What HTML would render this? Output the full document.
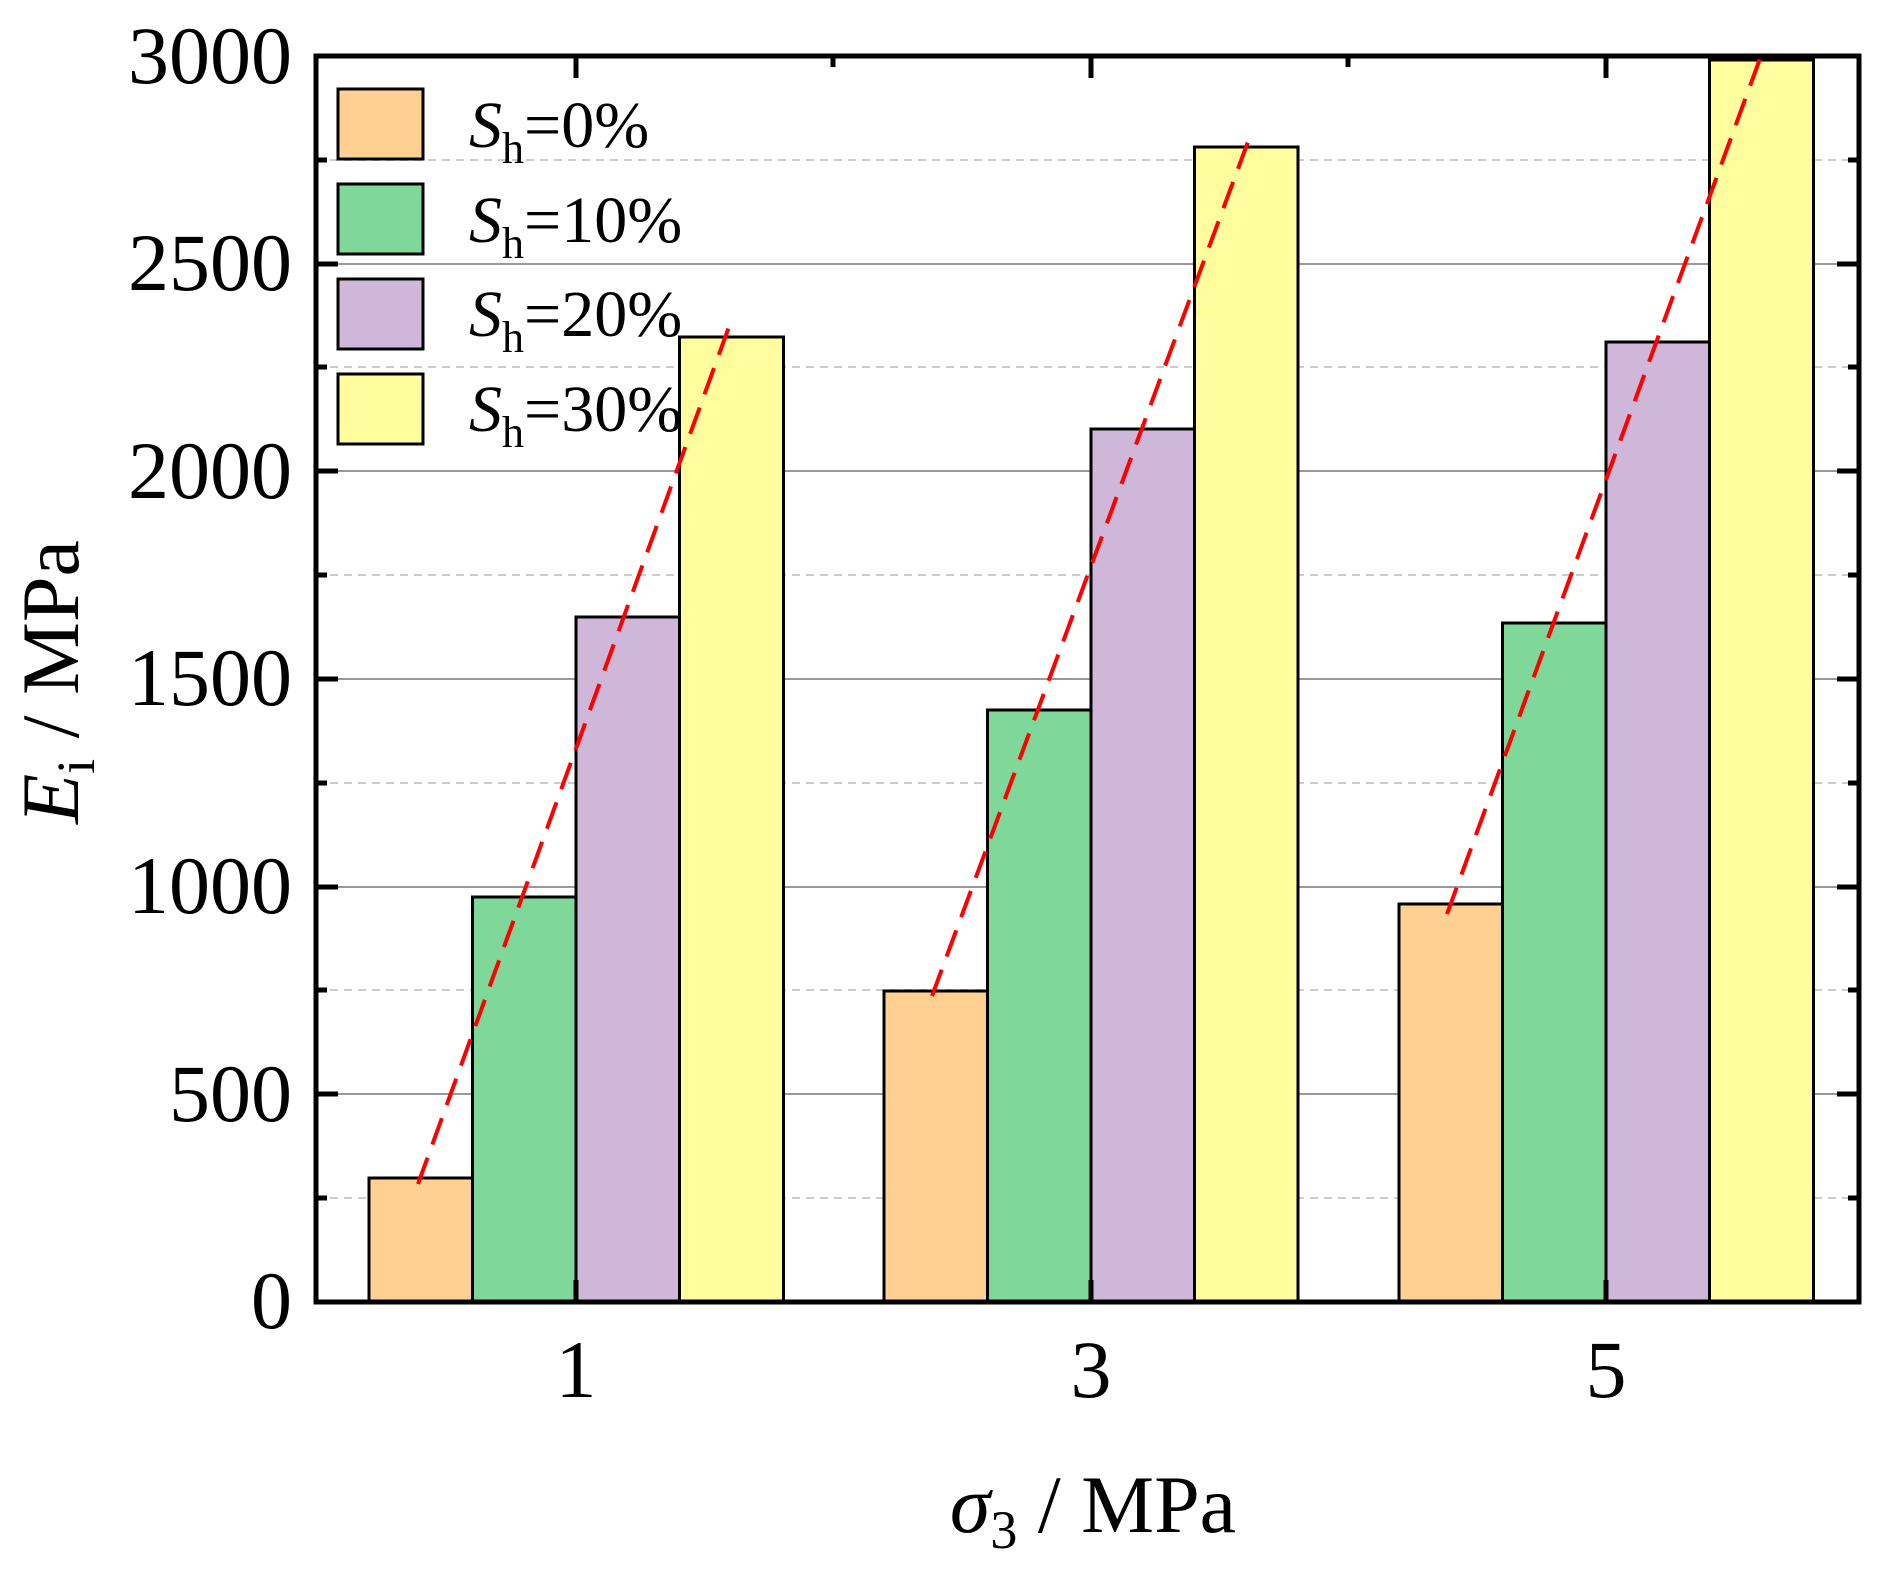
<!DOCTYPE html>
<html><head><meta charset="utf-8"><style>body{margin:0;background:#fff}svg{display:block}</style></head><body>
<svg width="1884" height="1571" viewBox="0 0 1884 1571" xmlns="http://www.w3.org/2000/svg" font-family="Liberation Serif, serif">
<rect width="1884" height="1571" fill="#fff"/>
<g stroke="#ccc" stroke-width="2" stroke-dasharray="8,6">
<line x1="316" x2="1859" y1="1198" y2="1198"/><line x1="316" x2="1859" y1="990" y2="990"/><line x1="316" x2="1859" y1="783" y2="783"/><line x1="316" x2="1859" y1="575" y2="575"/><line x1="316" x2="1859" y1="367" y2="367"/><line x1="316" x2="1859" y1="160" y2="160"/>
</g>
<g stroke="#999" stroke-width="2">
<line x1="316" x2="1859" y1="1094" y2="1094"/><line x1="316" x2="1859" y1="887" y2="887"/><line x1="316" x2="1859" y1="679" y2="679"/><line x1="316" x2="1859" y1="471" y2="471"/><line x1="316" x2="1859" y1="264" y2="264"/>
</g>
<g stroke="#000" stroke-width="3">
<rect x="369" y="1178" width="103.5" height="124" fill="#FFD092"/>
<rect x="472.5" y="897" width="103.5" height="405" fill="#7FD89A"/>
<rect x="576" y="617" width="103.5" height="685" fill="#CEB7D8"/>
<rect x="679.5" y="337" width="104" height="965" fill="#FFFD9E"/>
<rect x="884" y="991" width="103.5" height="311" fill="#FFD092"/>
<rect x="987.5" y="710" width="103.5" height="592" fill="#7FD89A"/>
<rect x="1091" y="429" width="103.5" height="873" fill="#CEB7D8"/>
<rect x="1194.5" y="147" width="103.5" height="1155" fill="#FFFD9E"/>
<rect x="1399" y="904" width="103.5" height="398" fill="#FFD092"/>
<rect x="1502.5" y="623" width="103.5" height="679" fill="#7FD89A"/>
<rect x="1606" y="342" width="103.5" height="960" fill="#CEB7D8"/>
<rect x="1709.5" y="60" width="104" height="1242" fill="#FFFD9E"/>
</g>
<g stroke="#f00" stroke-width="4" stroke-dasharray="28,14" fill="none">
<line x1="418" y1="1184" x2="730" y2="324"/>
<line x1="932" y1="996" x2="1249" y2="139"/>
<line x1="1447" y1="914" x2="1761" y2="56"/>
</g>
<g stroke="#000" stroke-width="5" fill="none"><rect x="316" y="56" width="1543" height="1246"/></g>
<g stroke="#000" stroke-width="5">
<line x1="316" x2="338" y1="1094" y2="1094"/><line x1="316" x2="338" y1="887" y2="887"/><line x1="316" x2="338" y1="679" y2="679"/><line x1="316" x2="338" y1="471" y2="471"/><line x1="316" x2="338" y1="264" y2="264"/>
<line x1="316" x2="327" y1="1198" y2="1198"/><line x1="316" x2="327" y1="990" y2="990"/><line x1="316" x2="327" y1="783" y2="783"/><line x1="316" x2="327" y1="575" y2="575"/><line x1="316" x2="327" y1="367" y2="367"/><line x1="316" x2="327" y1="160" y2="160"/>
<line x1="1859" x2="1837" y1="1094" y2="1094"/><line x1="1859" x2="1837" y1="887" y2="887"/><line x1="1859" x2="1837" y1="679" y2="679"/><line x1="1859" x2="1837" y1="471" y2="471"/><line x1="1859" x2="1837" y1="264" y2="264"/>
<line x1="1859" x2="1848" y1="1198" y2="1198"/><line x1="1859" x2="1848" y1="990" y2="990"/><line x1="1859" x2="1848" y1="783" y2="783"/><line x1="1859" x2="1848" y1="575" y2="575"/><line x1="1859" x2="1848" y1="367" y2="367"/><line x1="1859" x2="1848" y1="160" y2="160"/>
<line x1="576" x2="576" y1="1302" y2="1280"/><line x1="1091" x2="1091" y1="1302" y2="1280"/><line x1="1606" x2="1606" y1="1302" y2="1280"/>
<line x1="576" x2="576" y1="56" y2="78"/><line x1="1091" x2="1091" y1="56" y2="78"/><line x1="1606" x2="1606" y1="56" y2="78"/>
<line x1="833" x2="833" y1="56" y2="67"/><line x1="1348" x2="1348" y1="56" y2="67"/>
</g>
<g font-size="82" text-anchor="end" fill="#000">
<text x="292" y="1328">0</text><text x="292" y="1121">500</text><text x="292" y="913">1000</text><text x="292" y="705">1500</text><text x="292" y="498">2000</text><text x="292" y="290">2500</text><text x="292" y="83">3000</text>
</g>
<g font-size="82" text-anchor="middle"><text x="576" y="1397">1</text><text x="1091" y="1397">3</text><text x="1606" y="1397">5</text></g>
<text x="1093" y="1532" font-size="82" text-anchor="middle"><tspan font-style="italic">σ</tspan><tspan font-size="54" dy="16">3</tspan><tspan dy="-16"> / MPa</tspan></text>
<text transform="translate(78,682) rotate(-90)" font-size="82" text-anchor="middle"><tspan font-style="italic">E</tspan><tspan font-size="54" dy="16">i</tspan><tspan dy="-16"> / MPa</tspan></text>
<g stroke="#000" stroke-width="3">
<rect x="338" y="89" width="85" height="70" fill="#FFD092"/>
<rect x="338" y="184" width="85" height="70" fill="#7FD89A"/>
<rect x="338" y="279" width="85" height="70" fill="#CEB7D8"/>
<rect x="338" y="374" width="85" height="70" fill="#FFFD9E"/>
</g>
<g font-size="66">
<text x="469" y="147"><tspan font-style="italic">S</tspan><tspan font-size="44" dy="16">h</tspan><tspan dy="-16">=0%</tspan></text>
<text x="469" y="242"><tspan font-style="italic">S</tspan><tspan font-size="44" dy="16">h</tspan><tspan dy="-16">=10%</tspan></text>
<text x="469" y="336"><tspan font-style="italic">S</tspan><tspan font-size="44" dy="16">h</tspan><tspan dy="-16">=20%</tspan></text>
<text x="469" y="431"><tspan font-style="italic">S</tspan><tspan font-size="44" dy="16">h</tspan><tspan dy="-16">=30%</tspan></text>
</g>
</svg>
</body></html>
